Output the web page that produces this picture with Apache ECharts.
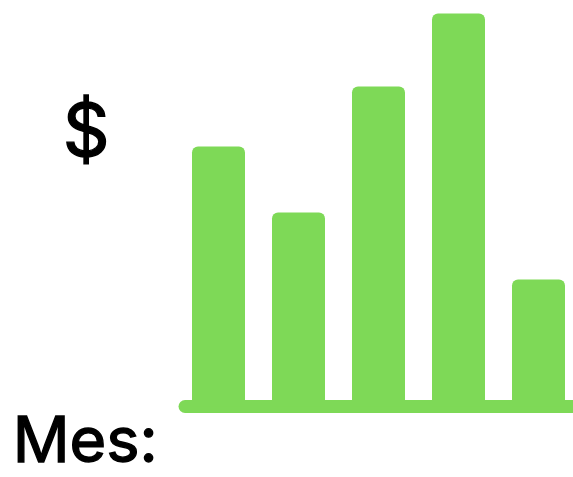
<!DOCTYPE html>
<html>
<head>
<meta charset="utf-8">
<script src="https://cdn.jsdelivr.net/npm/echarts@6/dist/echarts.min.js"></script>
<style>
html,body{margin:0;padding:0;background:#fff;overflow:hidden;}
#c{width:620px;height:477px;}
</style>
</head>
<body>
<div id="c"></div>
<script>
const categories = ['1', '2', '3', '4', '5'];
const values = [260, 194, 320, 393, 127];
const yLabel = '$';
const xLabel = 'Mes:';
const green = '#7ed957';

const chart = echarts.init(document.getElementById('c'), null, {renderer: 'canvas'});
chart.setOption({
  animation: false,
  backgroundColor: '#ffffff',
  grid: [
    {left: 178.5, width: 400, top: 6.5, bottom: 70.5},
    {left: 185, width: 420, top: 6.5, bottom: 70.5}
  ],
  xAxis: [
    {
      type: 'category', gridIndex: 0, data: categories,
      axisLine: {show: false}, axisTick: {show: false}, axisLabel: {show: false}
    },
    {
      type: 'value', gridIndex: 1, min: 0, max: 1,
      axisLine: {show: true, onZero: false, lineStyle: {color: green, width: 13, cap: 'round'}},
      axisTick: {show: false}, axisLabel: {show: false}, splitLine: {show: false}
    }
  ],
  yAxis: [
    {type: 'value', gridIndex: 0, min: 0, max: 400, show: false, splitLine: {show: false}},
    {type: 'value', gridIndex: 1, min: 0, max: 1, show: false, splitLine: {show: false}}
  ],
  series: [{
    type: 'bar',
    xAxisIndex: 0, yAxisIndex: 0,
    data: values,
    barWidth: 53,
    itemStyle: {color: green, borderRadius: [6, 6, 0, 0]}
  }],
  graphic: [
    {type: 'text', left: 62, top: 97, style: {text: yLabel, font: '400 73px Inter', fill: '#000', stroke: '#000', lineWidth: 1.4}},
    {type: 'text', left: 12, top: 411, style: {text: xLabel, font: '400 63px Inter', fill: '#000', stroke: '#000', lineWidth: 1.4}}
  ]
});
</script>
</body>
</html>
